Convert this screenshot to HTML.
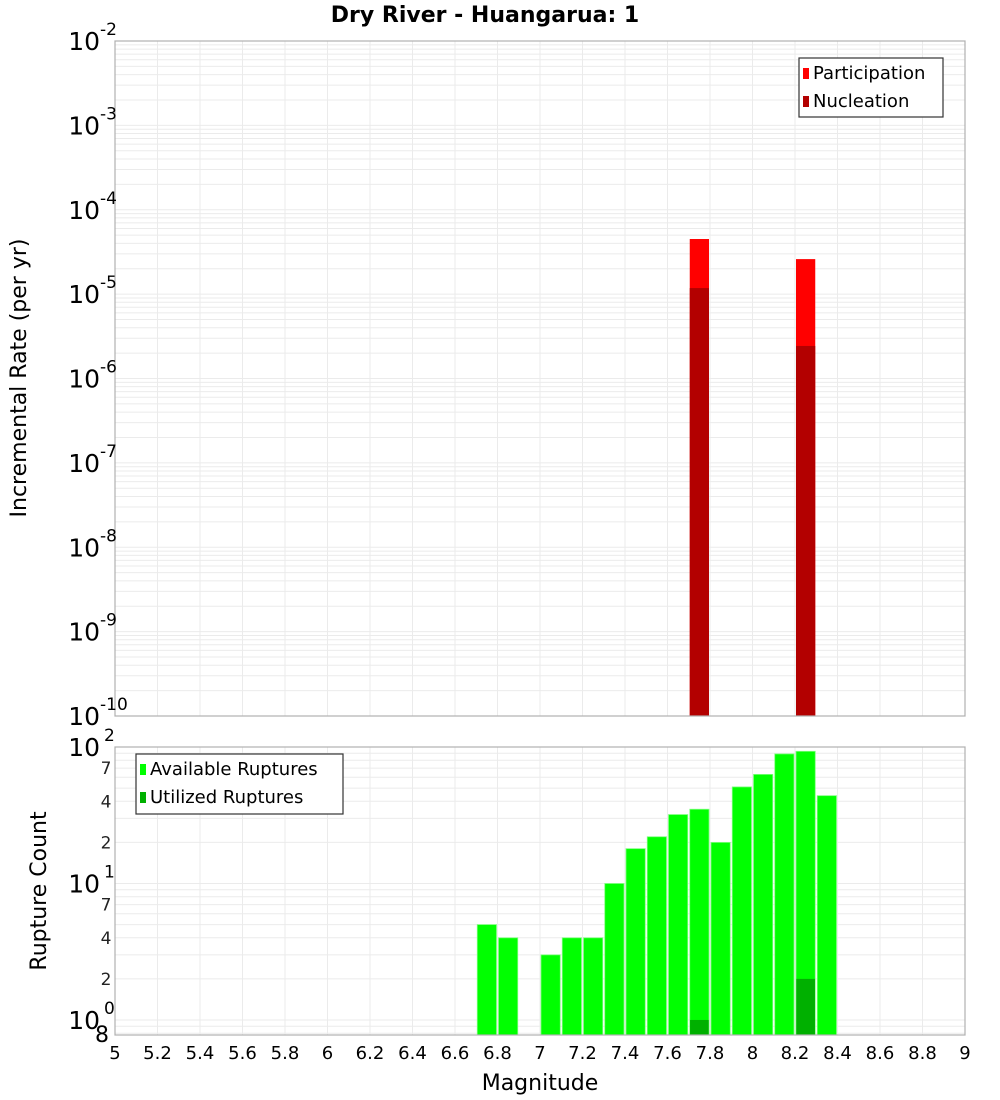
<!DOCTYPE html>
<html><head><meta charset="utf-8"><style>
html,body{margin:0;padding:0;background:#fff;}
svg{display:block;font-family:"DejaVu Sans","Liberation Sans",sans-serif;}
</style></head><body>
<svg id="chart" width="1000" height="1100" xmlns="http://www.w3.org/2000/svg">
<text x="485" y="22" text-anchor="middle" font-size="22" font-weight="bold">Dry River - Huangarua: 1</text>
<g id="topPlot"></g>
<g id="botPlot"></g>
<text transform="translate(26,378) rotate(-90)" text-anchor="middle" font-size="22">Incremental Rate (per yr)</text>
<text transform="translate(46,891) rotate(-90)" text-anchor="middle" font-size="22">Rupture Count</text>
<text x="540" y="1090" text-anchor="middle" font-size="22">Magnitude</text>
</svg>
<script>
const rateMags = [7.75, 8.25];
const participation = [4.5e-5, 2.6e-5];
const nucleation = [1.18e-5, 2.43e-6];
const countMags = [6.75,6.85,7.05,7.15,7.25,7.35,7.45,7.55,7.65,7.75,7.85,7.95,8.05,8.15,8.25,8.35];
const available = [5,4,3,4,4,10,18,22,32,35,20,51,63,89,93,44];
const utilizedMags = [7.75, 8.25];
const utilized = [1, 2];
const xTicks = [5,5.2,5.4,5.6,5.8,6,6.2,6.4,6.6,6.8,7,7.2,7.4,7.6,7.8,8,8.2,8.4,8.6,8.8,9];
const topDecades = [-2,-3,-4,-5,-6,-7,-8,-9,-10];
const botMinorLabels = [2,4,7];

const NS="http://www.w3.org/2000/svg";
const X0=115,X1=965;
const xs=m=>X0+(m-5)/(9-5)*(X1-X0);
const T0=41,T1=716,tMax=-2,tMin=-10;
const ty=v=>T0+(tMax-Math.log10(v))/(tMax-tMin)*(T1-T0);
const B0=747,B1=1035,bMax=2,bMin=Math.log10(0.776);
const by=v=>B0+(bMax-Math.log10(v))/(bMax-bMin)*(B1-B0);
function mk(tag,attrs,parent,txt){const e=document.createElementNS(NS,tag);for(const k in attrs)e.setAttribute(k,attrs[k]);if(txt!==undefined)e.textContent=txt;parent.appendChild(e);return e;}
const gTop=document.getElementById('topPlot'),gBot=document.getElementById('botPlot');

function grid(g,y0,y1,lo,hi,yf){
  for(let d=Math.floor(lo);d<=hi;d++){for(let k=1;k<10;k++){const v=k*Math.pow(10,d);const y=yf(v);if(y<y0-0.5||y>y1+0.5)continue;
    const l=mk('line',{x1:X0,x2:X1,y1:y,y2:y,stroke:'#ebebeb','stroke-width':1},g);
    
    }}
  xTicks.forEach(t=>{const x=xs(t);const l=mk('line',{x1:x,x2:x,y1:y0,y2:y1,stroke:'#ebebeb','stroke-width':1},g);
    
    });
}
grid(gTop,T0,T1,tMin,tMax,ty);
grid(gBot,B0,B1,bMin,bMax,by);

rateMags.forEach((m,i)=>{
  const x=xs(m-0.05),w=xs(m+0.05)-x;
  const p=mk('rect',{x:x+1,y:ty(participation[i]),width:w-2,height:T1-ty(participation[i]),fill:'#ff0000'},gTop);
  
  
  const n=mk('rect',{x:x+1,y:ty(nucleation[i]),width:w-2,height:T1-ty(nucleation[i]),fill:'#b30000'},gTop);
  
  
});
countMags.forEach((m,i)=>{
  const x=xs(m-0.05),w=xs(m+0.05)-x;
  const r=mk('rect',{x:x+1,y:by(available[i]),width:w-2,height:B1-by(available[i]),fill:'#00ff00',stroke:'#80ff80','stroke-width':0.8},gBot);
  
  
});
utilizedMags.forEach((m,i)=>{
  const x=xs(m-0.05),w=xs(m+0.05)-x;
  const r=mk('rect',{x:x+1.3,y:by(utilized[i]),width:w-2.6,height:B1-by(utilized[i]),fill:'#00b000'},gBot);
  
  
});
[[gTop,T0,T1],[gBot,B0,B1]].forEach(([g,a,b])=>{const f=mk('rect',{x:X0,y:a,width:X1-X0,height:b-a,fill:'none',stroke:'#b0b0b0','stroke-width':1.2},g);
  
  });

topDecades.forEach(d=>{const y=ty(Math.pow(10,d));
  const t=mk('text',{x:100,y:y+9,'text-anchor':'end','font-size':25},gTop,'10');
  
  
  const s=mk('text',{x:100,y:y-6,'font-size':17},gTop,String(d));
  
  });
[2,1,0].forEach(d=>{const y=by(Math.pow(10,d));
  const t=mk('text',{x:100,y:y+9,'text-anchor':'end','font-size':25},gBot,'10');
  
  
  const s=mk('text',{x:104,y:y-6,'font-size':17},gBot,String(d));
  
  });
[1,0].forEach(d=>botMinorLabels.forEach(k=>{const y=by(k*Math.pow(10,d));
  const t=mk('text',{x:106,y:y+6,'text-anchor':'middle','font-size':17,fill:'#222'},gBot,String(k));
  
  }));
{const t=mk('text',{x:102,y:by(0.8)+9,'text-anchor':'middle','font-size':22},gBot,'8');
 
 }
xTicks.forEach(v=>{const t=mk('text',{x:xs(v),y:1059,'text-anchor':'middle','font-size':18},gBot,String(v));
  
  });

function legend(g,x,y,w,h,items){
  const b=mk('rect',{x:x,y:y,width:w,height:h,fill:'#fff',stroke:'#333','stroke-width':1.2},g);
  
  
  items.forEach((it,i)=>{const yy=y+15+i*28;
    const s=mk('rect',{x:x+4,y:yy-5,width:6,height:11,fill:it[1]},g);
    
    
    const t=mk('text',{x:x+14,y:yy+6,'font-size':18},g,it[0]);
    
    });
}
legend(gTop,799,58,144,59,[['Participation','#ff0000'],['Nucleation','#b30000']]);
legend(gBot,136,754,207,60,[['Available Ruptures','#00ff00'],['Utilized Ruptures','#00b000']]);
</script>
</body></html>
